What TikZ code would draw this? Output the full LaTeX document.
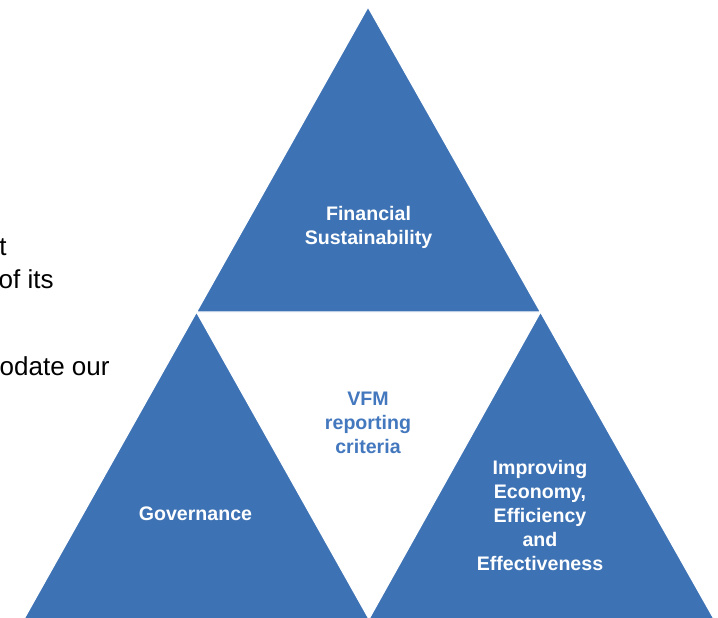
\documentclass[tikz,border=0pt]{standalone}
\usepackage{fontspec}
\setmainfont{Liberation Sans}
\definecolor{triblue}{RGB}{61,114,180}
\definecolor{vfmblue}{RGB}{68,120,190}

\begin{document}
\begin{tikzpicture}[x=0.5pt,y=-0.5pt,
  tri/.style={fill=triblue,draw=white,line width=0.6pt,line join=round},
  lbl/.style={align=center,font=\bfseries\fontsize{9.8}{12}\selectfont,text=white,inner sep=0},
  side/.style={font=\fontsize{13}{15}\selectfont,anchor=base east,inner sep=0}]
\useasboundingbox[fill=white] (0,0) rectangle (718,617);
% corners of the big triangle and the mid points of its sides
\coordinate (apex) at (368,7);
\coordinate (bl) at (24,619);
\coordinate (br) at (714,619);
\coordinate (ml) at (196.5,312);
\coordinate (mr) at (540.5,312);
\coordinate (mb) at (369,619);
\path[tri] (apex) -- (ml) -- (mr) -- cycle;
\path[tri] (ml) -- (bl) -- (mb) -- cycle;
\path[tri] (mr) -- (mb) -- (br) -- cycle;
% labels
\node[lbl] (fin) at (368.5,227.5) {Financial\\Sustainability};
\node[lbl,text=vfmblue] (vfm) at (368,423) {VFM\\reporting\\criteria};
\node[lbl] (gov) at (195.5,514) {Governance};
\node[lbl] (eee) at (540,515) {Improving\\Economy,\\Efficiency\\and\\Effectiveness};
% text at the left edge
\node[side] (txta) at (7,255) {t};
\node[side] (txtb) at (54,288) {of its};
\node[side] (txtc) at (110,375) {odate our};
\end{tikzpicture}
\end{document}
